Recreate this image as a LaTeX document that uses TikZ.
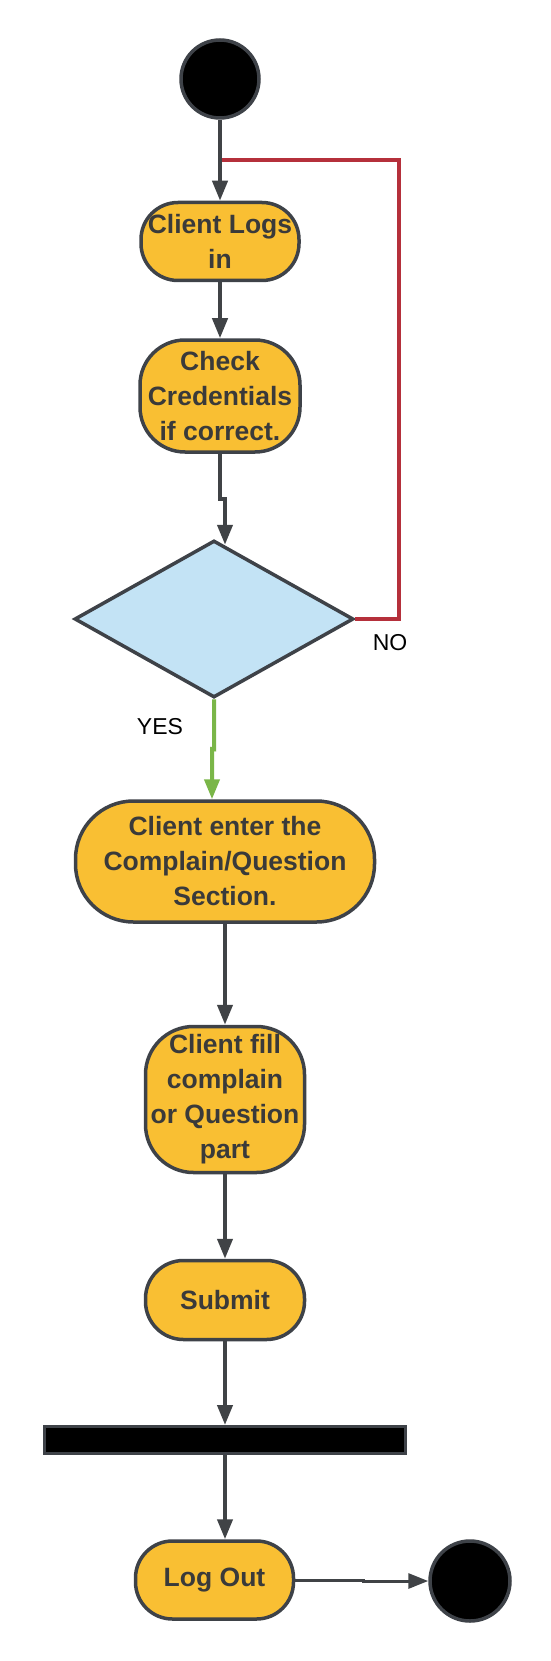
\documentclass[tikz,border=0pt]{standalone}
\usepackage{fontspec}
\setmainfont{Liberation Sans}
\usetikzlibrary{arrows.meta,shapes.geometric,calc}
\definecolor{ybox}{HTML}{F9BF33}
\definecolor{dfill}{HTML}{C3E3F5}
\definecolor{bord}{HTML}{3E4248}
\definecolor{txt}{HTML}{3A3A3A}
\definecolor{lred}{HTML}{B5303B}
\definecolor{lgreen}{HTML}{7AB648}
\definecolor{lconn}{HTML}{404346}
\begin{document}
\begin{tikzpicture}[x=1pt,y=-1pt,
  act/.style={draw=bord, line width=3.5pt, fill=ybox, align=center, inner sep=0pt,
    font=\bfseries\fontsize{26.5}{35}\selectfont, text=txt},
  blackdot/.style={circle, draw=bord, line width=3.5pt, fill=black, inner sep=0pt},
  conn/.style={draw=lconn, line width=4pt, -{Triangle[length=20pt,width=15pt]}},
  redline/.style={draw=lred, line width=4pt},
  greenconn/.style={draw=lgreen, line width=4pt, -{Triangle[length=20pt,width=15pt]}},
  lbl/.style={font=\fontsize{23}{27}\selectfont, text=black, inner sep=0pt}
]
\fill[white] (0,0) rectangle (550,1661);
\useasboundingbox (0,0) rectangle (550,1661);

% nodes
\node[blackdot, minimum size=78pt] (start) at (220,79) {};
\node[act, minimum width=158pt, minimum height=78pt, rounded corners=37pt] (login) at (220,241.5) {Client Logs\\in};
\node[act, minimum width=160pt, minimum height=112pt, rounded corners=45pt] (check) at (220,396) {Check\\Credentials\\if correct.};
\node[diamond, draw=bord, line width=3.5pt, fill=dfill, inner sep=0pt, minimum width=279pt, minimum height=157pt] (dec) at (214,619) {};
\node[act, minimum width=299pt, minimum height=121pt, rounded corners=58pt] (enter) at (225,861.5) {Client enter the\\Complain/Question\\Section.};
\node[act, minimum width=159pt, minimum height=146pt, rounded corners=48pt] (fill) at (225,1099.5) {Client fill\\complain\\or Question\\part};
\node[act, minimum width=159pt, minimum height=79pt, rounded corners=38pt] (submit) at (225,1300) {Submit};
\node[draw=bord, fill=black, line width=3pt, inner sep=0pt, minimum width=361pt, minimum height=27pt] (bar) at (225,1440) {};
\node[act, minimum width=158pt, minimum height=78pt, rounded corners=37pt] (logout) at (214.5,1580) {Log Out};
\node[blackdot, minimum size=80pt] (end) at (470,1581) {};

\node[lbl] (no) at (390,643) {NO};
\node[lbl] (yes) at (160,727) {YES};

% helper coordinates
\coordinate (loopR) at (399,160);
\coordinate (loopJ) at (220,160);
\coordinate (cj) at (225,499);
\coordinate (gj) at (212,749);
\coordinate (lj) at (363,1580);

% connectors
\draw[redline] (dec.east) -| (loopR) -- (loopJ);
\draw[conn] (start.south) -- (login.north);
\draw[conn] (login.south) -- (check.north);
\draw[conn] (check.south) |- (cj) -- ($(dec.north)+(11,6)$);
\draw[greenconn] (dec.south) -- ($(dec.south)+(0,50)$) -- (gj) -- (gj |- enter.north);
\draw[conn] (enter.south) -- (fill.north);
\draw[conn] (fill.south) -- (submit.north);
\draw[conn] (submit.south) -- (bar.north);
\draw[conn] (bar.south) -- (bar.south |- logout.north);
\draw[conn, line width=3pt] (logout.east) -- (lj) -- ++(0,1) -- (end.west);
\end{tikzpicture}
\end{document}
